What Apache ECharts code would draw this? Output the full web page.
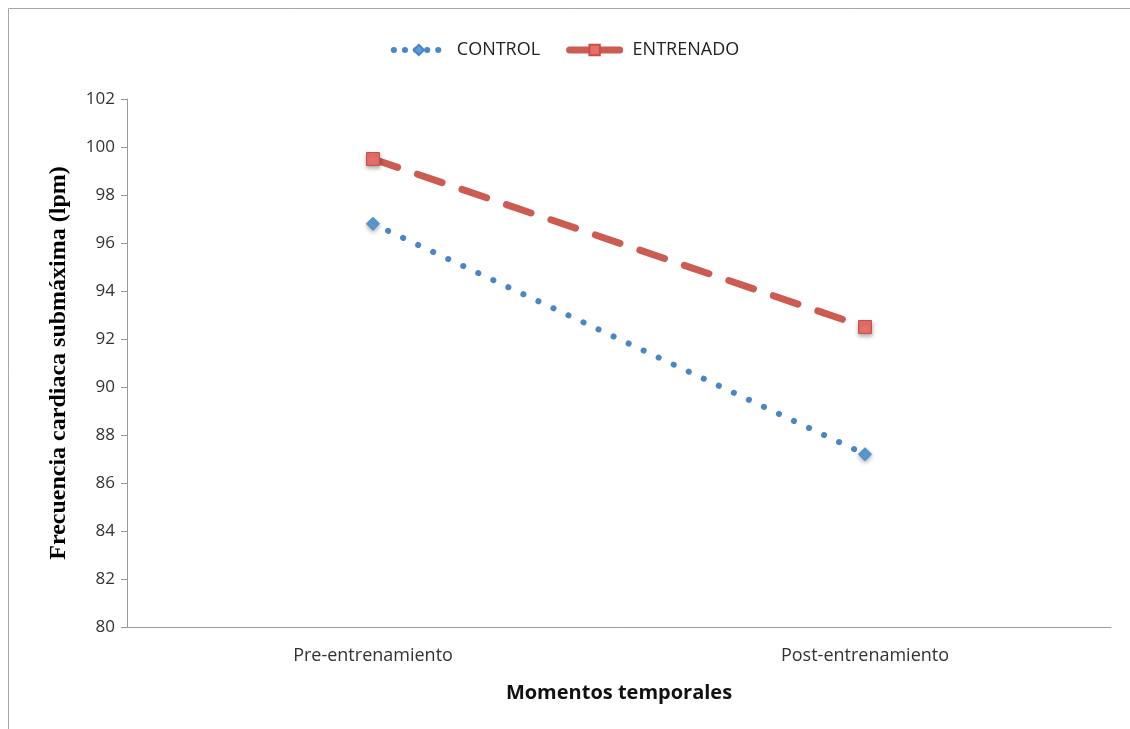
<!DOCTYPE html>
<html>
<head>
<meta charset="utf-8">
<script src="https://cdn.jsdelivr.net/npm/echarts@6/dist/echarts.min.js"></script>
<style>
  html, body { margin: 0; padding: 0; background: #fff; }
  #chart { width: 1130px; height: 729px; }
</style>
</head>
<body>
<div id="chart"></div>
<script>
// Submaximal heart rate before and after the training period
const categories = ['Pre-entrenamiento', 'Post-entrenamiento'];
const controlValues = [96.8, 87.2];
const entrenadoValues = [99.5, 92.5];
const yTicks = { min: 80, max: 102, interval: 2 };

const chart = echarts.init(document.getElementById('chart'));
const labelFont = "'Open Sans', 'Noto Sans', sans-serif";

chart.setOption({
  backgroundColor: '#ffffff',
  animation: false,
  graphic: [{
    type: 'rect',
    shape: { x: 8.5, y: 8.5, width: 1140, height: 740 },
    style: { fill: 'none', stroke: '#a6a6a6', lineWidth: 1 },
    silent: true
  }],
  legend: {
    top: 36,
    left: 'center',
    itemWidth: 50,
    itemHeight: 13,
    itemGap: 26,
    textStyle: { fontFamily: labelFont, fontSize: 18, color: '#222', padding: [0, 0, 0, 8] },
    data: [
      { name: 'CONTROL', lineStyle: { width: 6, type: [0.1, 11], cap: 'round' } },
      { name: 'ENTRENADO', lineStyle: { width: 7, type: 'solid', cap: 'round' } }
    ]
  },
  grid: { left: 127, right: 19, top: 99, bottom: 102 },
  xAxis: {
    type: 'category',
    data: categories,
    boundaryGap: true,
    axisLine: { lineStyle: { color: '#9a9a9a', width: 1 } },
    axisTick: { alignWithLabel: true, length: 6, lineStyle: { color: '#9a9a9a' } },
    axisLabel: { fontFamily: labelFont, fontSize: 18, color: '#333', margin: 20 },
    name: 'Momentos temporales',
    nameLocation: 'middle',
    nameGap: 56,
    nameTextStyle: { fontFamily: labelFont, fontSize: 20, fontWeight: 'bold', color: '#111' }
  },
  yAxis: {
    type: 'value',
    min: yTicks.min,
    max: yTicks.max,
    interval: yTicks.interval,
    splitLine: { show: false },
    axisLine: { show: true, lineStyle: { color: '#9a9a9a', width: 1 } },
    axisTick: { show: true, length: 6, lineStyle: { color: '#9a9a9a' } },
    axisLabel: { fontFamily: labelFont, fontSize: 17, color: '#333', margin: 12 },
    name: 'Frecuencia cardiaca submáxima (lpm)',
    nameLocation: 'middle',
    nameGap: 56,
    nameTextStyle: { fontFamily: "'Liberation Serif', 'DejaVu Serif', serif", fontSize: 24, fontWeight: 'bold', color: '#000' }
  },
  series: [
    {
      name: 'CONTROL',
      type: 'line',
      data: controlValues,
      symbol: 'diamond',
      symbolSize: 13,
      itemStyle: { color: '#5b9bd5', borderColor: '#4a86c6', borderWidth: 1,
        shadowColor: 'rgba(0,0,0,0.3)', shadowBlur: 4, shadowOffsetY: 2 },
      lineStyle: { color: '#4a86c6', width: 6, type: [0.1, 16.5], cap: 'round' },
      z: 3
    },
    {
      name: 'ENTRENADO',
      type: 'line',
      data: entrenadoValues,
      symbol: 'rect',
      symbolSize: 13,
      itemStyle: { color: '#e8706a', borderColor: '#c9504a', borderWidth: 1,
        shadowColor: 'rgba(0,0,0,0.3)', shadowBlur: 4, shadowOffsetY: 2 },
      lineStyle: { color: '#cc5b52', width: 7, type: [26, 21], cap: 'round' },
      z: 2
    }
  ]
});
</script>
</body>
</html>
